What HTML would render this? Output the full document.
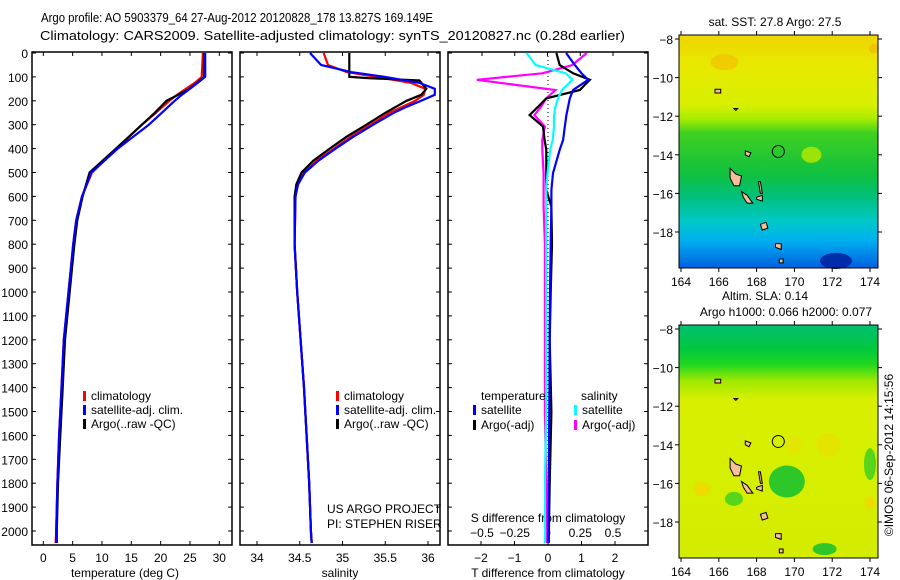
<!DOCTYPE html>
<html><head><meta charset="utf-8">
<style>
html,body{margin:0;padding:0;background:#fff;}
svg{display:block;font-family:"Liberation Sans",sans-serif;}
</style></head>
<body>
<svg id="fig" width="900" height="580" viewBox="0 0 900 580" xmlns="http://www.w3.org/2000/svg">
<defs>
<linearGradient id="sstGrad" x1="0" y1="0" x2="0" y2="1">
<stop offset="0" stop-color="#f0d400"/><stop offset="0.12" stop-color="#e8e800"/>
<stop offset="0.3" stop-color="#d8f000"/><stop offset="0.36" stop-color="#a8ec00"/>
<stop offset="0.42" stop-color="#40d020"/><stop offset="0.6" stop-color="#10c040"/>
<stop offset="0.7" stop-color="#00c080"/><stop offset="0.8" stop-color="#00c8c8"/>
<stop offset="0.88" stop-color="#00b0f0"/><stop offset="1" stop-color="#0060e0"/>
</linearGradient>
<linearGradient id="slaGrad" x1="0" y1="0" x2="0" y2="1">
<stop offset="0" stop-color="#00c070"/><stop offset="0.1" stop-color="#00c840"/>
<stop offset="0.17" stop-color="#20d820"/><stop offset="0.24" stop-color="#a0e800"/>
<stop offset="0.32" stop-color="#d8f000"/><stop offset="1" stop-color="#d4ec00"/>
</linearGradient>
</defs>
<text x="41" y="22" font-size="12.5" textLength="392" lengthAdjust="spacingAndGlyphs">Argo profile: AO 5903379_64 27-Aug-2012 20120828_178 13.827S 169.149E</text>
<text x="40" y="40" font-size="12.5" textLength="585" lengthAdjust="spacingAndGlyphs">Climatology: CARS2009. Satellite-adjusted climatology: synTS_20120827.nc (0.28d earlier)</text>
<g id="plots"></g>
</svg>
<script>
// ---- data ----
const depthTicks = [0,100,200,300,400,500,600,700,800,900,1000,1100,1200,1300,1400,1500,1600,1700,1800,1900,2000];
const tTicks = [0,5,10,15,20,25,30];
const sTicks = [34,34.5,35,35.5,36];
const sTickLabels = ["34","34.5","35","35.5","36"];
const dTTicks = [-2,-1,0,1,2];
const dSTicks = [-0.5,-0.25,0,0.25,0.5];
const dSTickLabels = ["\u22120.5","\u22120.25","0","0.25","0.5"];
const dTTickLabels = ["\u22122","\u22121","0","1","2"];

const tDepth = [0,100,125,150,175,200,250,300,400,500,600,700,800,900,1000,1200,1400,1600,1800,2000,2050];
const tClim  = [27.2,27.0,25.8,24.3,22.8,21.5,19.2,16.8,12.5,8.3,6.6,5.6,5.1,4.7,4.3,3.5,3.1,2.7,2.4,2.2,2.1];
const tSat   = [27.6,27.6,26.3,25.0,23.6,22.4,20.2,18.0,12.7,8.2,6.6,5.6,5.1,4.7,4.3,3.5,3.1,2.7,2.4,2.2,2.2];
const tArgo  = [27.4,27.4,26.2,24.9,23.0,21.0,19.0,16.8,12.4,7.9,6.7,5.8,5.3,4.9,4.5,3.7,3.3,2.9,2.5,2.3,2.3];

const sDepth = [0,50,80,100,125,150,175,200,225,250,300,350,400,450,500,550,600,800,1000,1200,1400,1600,1800,2000,2050];
const sClim  = [34.78,34.83,35.05,35.4,35.8,35.97,35.95,35.85,35.7,35.55,35.33,35.1,34.9,34.7,34.55,34.48,34.45,34.44,34.47,34.51,34.55,34.58,34.61,34.63,34.64];
const sSat   = [34.62,34.75,35.1,35.5,35.9,36.08,36.08,35.92,35.75,35.6,35.36,35.13,34.92,34.72,34.56,34.48,34.45,34.44,34.47,34.51,34.55,34.58,34.61,34.63,34.64];
const sArgoDepth = [0,100,105,115,150,175,200,250,300,350,400,450,500,550,600,800,1000,1200,1400,1600,1800,2000,2050];
const sArgo  = [35.08,35.08,35.3,35.9,35.98,35.92,35.75,35.5,35.28,35.05,34.85,34.66,34.52,34.46,34.44,34.44,34.47,34.51,34.55,34.58,34.61,34.63,34.64];

const dDepth = [0,50,85,112,155,190,225,260,308,364,405,503,573,643,800,1000,1200,1500,1800,2050];
const dTSat  = [0.54,0.8,1.0,1.2,0.75,0.65,0.6,0.55,0.5,0.45,0.35,0.15,0.1,0.1,0.08,0.06,0.05,0.04,0.02,0.0];
const dTArgo = [0.25,0.35,0.75,1.25,0.95,-0.05,-0.3,-0.55,-0.15,-0.1,-0.05,-0.05,-0.05,0.1,0.12,0.08,0.05,0.1,0.05,0.02];
const dSSat  = [-0.16,-0.09,0.14,0.19,0.11,0.08,0.06,0.05,0.05,0.04,0.02,0.0,-0.01,-0.01,-0.01,-0.01,-0.01,-0.01,-0.02,-0.02];
const dSArgo = [0.3,0.19,-0.04,-0.54,0.06,-0.01,-0.05,-0.1,-0.02,-0.04,-0.04,-0.03,-0.03,-0.03,-0.02,-0.02,-0.02,-0.02,-0.01,-0.01];

const lonTicks = [164,166,168,170,172,174];
const latTicks = [-8,-10,-12,-14,-16,-18];
const floatLon = 169.149, floatLat = -13.827;

// ---- helpers ----
const NS = "http://www.w3.org/2000/svg";
const root = document.getElementById('plots');
function mk(tag, attrs, parent, txt){
  const e = document.createElementNS(NS, tag);
  for (const k in attrs) e.setAttribute(k, attrs[k]);
  if (txt !== undefined) e.textContent = txt;
  (parent||root).appendChild(e);
  return e;
}
const TOP = 52, BOT = 545;
const yD = d => 53 + d*0.239;
function lin(d0,d1,p0,p1){ return v => p0 + (v-d0)*(p1-p0)/(d1-d0); }

function frame(x0,x1,name){
  const r = mk('rect',{x:x0,y:TOP,width:x1-x0,height:BOT-TOP,fill:'none',stroke:'#000','stroke-width':1.5});
  
  
  depthTicks.forEach(d=>{
    mk('line',{x1:x0,x2:x0+4,y1:yD(d),y2:yD(d),stroke:'#000'});
    mk('line',{x1:x1-4,x2:x1,y1:yD(d),y2:yD(d),stroke:'#000'});
  });
}
function line(xs, ds, fx, color, name){
  const pts = xs.map((v,i)=> fx(v).toFixed(1)+','+yD(ds[i]).toFixed(1)).join(' ');
  const p = mk('polyline',{points:pts,fill:'none',stroke:color,'stroke-width':2.2,'stroke-linejoin':'miter'});
  
  
}
function legendItem(x,y,color,label,name){
  if (color) mk('rect',{x:x,y:y-9,width:3,height:10,fill:color});
  const t = mk('text',{x:x+8,y:y,'font-size':12},null,label);
  
  
}

// ---- panel 1: temperature ----
const fT = lin(0,30,43.3,219.3);
frame(32,232,'temperature-panel');
depthTicks.forEach(d=>{
  const t = mk('text',{x:28,y:yD(d)+5,'font-size':12,'text-anchor':'end'},null,String(d));
  
  
});
tTicks.forEach(v=>{
  mk('line',{x1:fT(v),x2:fT(v),y1:BOT,y2:BOT-4,stroke:'#000'});
  mk('line',{x1:fT(v),x2:fT(v),y1:TOP,y2:TOP+4,stroke:'#000'});
  const t = mk('text',{x:fT(v),y:562,'font-size':12,'text-anchor':'middle'},null,String(v));
  
  
});
const tt = mk('text',{x:125,y:577,'font-size':12,'text-anchor':'middle'},null,'temperature (deg C)');


line(tClim,tDepth,fT,'#ff0000','temperature-climatology-line');
line(tArgo,tDepth,fT,'#000000','temperature-argo-line');
line(tSat,tDepth,fT,'#0000ff','temperature-satellite-line');
legendItem(83,400,'#ff0000','climatology','legend-climatology');
legendItem(83,414,'#0000ff','satellite-adj. clim.','legend-satellite-adj');
legendItem(83,428,'#000000','Argo(..raw -QC)','legend-argo');

// ---- panel 2: salinity ----
const fS = lin(34,36,257,428);
frame(240,440,'salinity-panel');
sTicks.forEach((v,i)=>{
  mk('line',{x1:fS(v),x2:fS(v),y1:BOT,y2:BOT-4,stroke:'#000'});
  mk('line',{x1:fS(v),x2:fS(v),y1:TOP,y2:TOP+4,stroke:'#000'});
  const t = mk('text',{x:fS(v),y:562,'font-size':12,'text-anchor':'middle'},null,sTickLabels[i]);
  
  
});
const st = mk('text',{x:340,y:577,'font-size':12,'text-anchor':'middle'},null,'salinity');


line(sClim,sDepth,fS,'#ff0000','salinity-climatology-line');
line(sArgo,sArgoDepth,fS,'#000000','salinity-argo-line');
line(sSat,sDepth,fS,'#0000ff','salinity-satellite-line');
legendItem(336,400,'#ff0000','climatology','legend-climatology-s');
legendItem(336,414,'#0000ff','satellite-adj. clim.','legend-satellite-adj-s');
legendItem(336,428,'#000000','Argo(..raw -QC)','legend-argo-s');
const p1 = mk('text',{x:327,y:513,'font-size':12},null,'US ARGO PROJECT');


const p2 = mk('text',{x:327,y:528,'font-size':12},null,'PI: STEPHEN RISER');



// ---- panel 3: differences ----
const fDT = lin(-2,2,481,615);
const fDS = lin(-0.5,0.5,482,613);
frame(448,648,'difference-panel');
dTTicks.forEach((v,i)=>{
  mk('line',{x1:fDT(v),x2:fDT(v),y1:BOT,y2:BOT-4,stroke:'#000'});
  const t = mk('text',{x:fDT(v),y:562,'font-size':12,'text-anchor':'middle'},null,dTTickLabels[i]);
  
  
});
dSTicks.forEach((v,i)=>{
  mk('line',{x1:fDS(v),x2:fDS(v),y1:TOP,y2:TOP+4,stroke:'#000'});
  const t = mk('text',{x:fDS(v),y:537,'font-size':12,'text-anchor':'middle'},null,dSTickLabels[i]);
  
  
});
mk('line',{x1:fDT(0),x2:fDT(0),y1:TOP,y2:BOT,stroke:'#000','stroke-dasharray':'1,3'});
const s3 = mk('text',{x:548,y:522,'font-size':12,'text-anchor':'middle'},null,'S difference from climatology');


const t3 = mk('text',{x:548,y:577,'font-size':12,'text-anchor':'middle'},null,'T difference from climatology');


line(dSArgo,dDepth,fDS,'#ff00ff','s-diff-argo-line');
line(dTArgo,dDepth,fDT,'#000000','t-diff-argo-line');
line(dTSat,dDepth,fDT,'#0000ff','t-diff-satellite-line');
line(dSSat,dDepth,fDS,'#00ffff','s-diff-satellite-line');
legendItem(473,400,null,'temperature','legend-temperature-header');
legendItem(573,400,null,'salinity','legend-salinity-header');
legendItem(473,414,'#0000ff','satellite','legend-t-satellite');
legendItem(473,429,'#000000','Argo(-adj)','legend-t-argo');
legendItem(574,414,'#00ffff','satellite','legend-s-satellite');
legendItem(574,429,'#ff00ff','Argo(-adj)','legend-s-argo');

// ---- maps ----
const fLon = lin(164,174,681,870);
function drawMap(top, grad, title1, title2, name, patches){
  const fLat = lin(-8,-18,top+4,top+197);
  const g = mk('g',{});
  
  
  const x0=679,x1=878,y0=top,y1=top+233;
  mk('rect',{x:x0,y:y0,width:x1-x0,height:y1-y0,fill:'url(#'+grad+')'},g);
  patches.forEach(p=> mk('ellipse',{cx:fLon(p[0]),cy:fLat(p[1]),rx:p[2],ry:p[3],fill:p[4],opacity:0.85},g));
  const isl = [
    [[166.6,-14.7],[166.9,-15.0],[167.2,-15.1],[167.1,-15.6],[166.8,-15.6],[166.6,-15.2]],
    [[167.2,-15.9],[167.5,-16.1],[167.8,-16.5],[167.5,-16.5],[167.3,-16.2]],
    [[168.1,-15.4],[168.2,-15.4],[168.3,-16.0],[168.2,-16.0]],
    [[168.0,-16.2],[168.3,-16.1],[168.3,-16.4],[168.0,-16.3]],
    [[168.2,-17.6],[168.5,-17.5],[168.6,-17.8],[168.3,-17.9]],
    [[169.0,-18.6],[169.3,-18.6],[169.3,-18.9],[169.0,-18.8]],
    [[169.2,-19.4],[169.4,-19.4],[169.4,-19.6],[169.2,-19.6]],
    [[167.4,-13.8],[167.7,-13.9],[167.6,-14.1],[167.4,-14.0]],
    [[165.8,-10.6],[166.1,-10.6],[166.1,-10.8],[165.8,-10.8]],
    [[166.8,-11.6],[167.0,-11.6],[166.9,-11.7]]
  ];
  isl.forEach(poly=>{
    mk('polygon',{points:poly.map(p=>fLon(p[0]).toFixed(1)+','+fLat(p[1]).toFixed(1)).join(' '),fill:'#f8c098',stroke:'#000','stroke-width':1},g);
  });
  mk('circle',{cx:fLon(floatLon),cy:fLat(floatLat),r:6,fill:'none',stroke:'#000','stroke-width':1},g);
  mk('rect',{x:x0,y:y0,width:x1-x0,height:y1-y0,fill:'none',stroke:'#000','stroke-width':1},g);
  lonTicks.forEach(v=>{
    mk('line',{x1:fLon(v),x2:fLon(v),y1:y0,y2:y0-4,stroke:'#000'},g);
    mk('line',{x1:fLon(v),x2:fLon(v),y1:y1,y2:y1+4,stroke:'#000'},g);
    const t = mk('text',{x:fLon(v),y:y1+18,'font-size':12,'text-anchor':'middle'},g,String(v));
    
    
  });
  latTicks.forEach(v=>{
    mk('line',{x1:x0,x2:x0-4,y1:fLat(v),y2:fLat(v),stroke:'#000'},g);
    mk('line',{x1:x1,x2:x1+4,y1:fLat(v),y2:fLat(v),stroke:'#000'},g);
    const t = mk('text',{x:673,y:fLat(v)+5,'font-size':12,'text-anchor':'end'},g,String(v).replace('-','\u2212'));
    
    
  });
  if (title2){
    const a = mk('text',{x:765,y:top-25,'font-size':12,'text-anchor':'middle'},g,title1);
    
    
    const b = mk('text',{x:786,y:top-9,'font-size':12,'text-anchor':'middle'},g,title2);
    
    
  } else {
    const a = mk('text',{x:775,y:top-9,'font-size':12,'text-anchor':'middle'},g,title1);
    
    
  }
}
drawMap(35,'sstGrad','sat. SST: 27.8 Argo: 27.5',null,'sst-map',[
  [172.2,-19.5,16,8,'#0020a0'],[166.3,-9.2,14,8,'#f0c800'],[170.9,-14.0,10,8,'#b0e800'],[174.2,-8.5,5,5,'#f0c000']
]);
drawMap(325,'slaGrad','Altim. SLA: 0.14','Argo h1000: 0.066 h2000: 0.077','sla-map',[
  [169.6,-15.9,18,16,'#10c030'],[166.8,-16.8,9,7,'#40d020'],[165.1,-16.3,8,7,'#f0d800'],
  [171.8,-14.0,12,12,'#e8e000'],[170.0,-14.0,8,10,'#e4e400'],[171.6,-19.4,12,6,'#10c030'],
  [174.0,-15.0,6,16,'#40d020'],[174.0,-17.0,5,6,'#f0d800']
]);
const imos = mk('text',{x:893,y:455,'font-size':12,'text-anchor':'middle',transform:'rotate(-90 893 455)'},null,'\u00a9IMOS 06-Sep-2012 14:15:56');


</script>
</body></html>
